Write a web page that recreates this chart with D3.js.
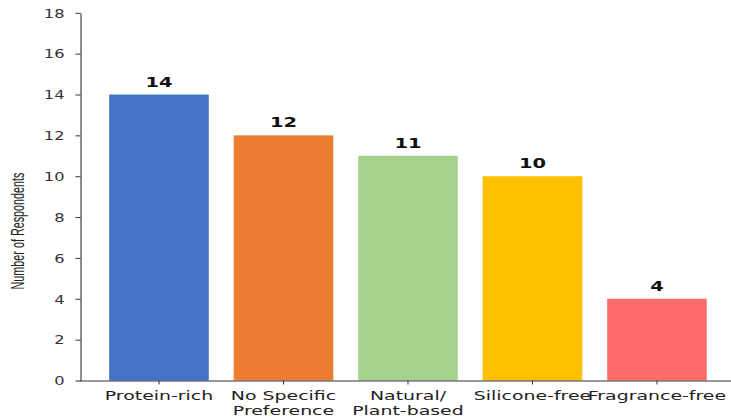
<!DOCTYPE html>
<html>
<head>
<meta charset="utf-8">
<script src="https://cdn.jsdelivr.net/npm/d3@7"></script>
<style>
  html, body { margin: 0; padding: 0; background: #fff; }
  svg { display: block; }
</style>
</head>
<body>
<svg id="chart" width="731" height="419"></svg>
<script>
// Survey results: preferred hair-care product attribute
const categories = ["Protein-rich", "No Specific\nPreference", "Natural/\nPlant-based", "Silicone-free", "Fragrance-free"];
const respondents = [14, 12, 11, 10, 4];
const barColors = ["#4472C4", "#ED7D31", "#A9D18E", "#FFC000", "#FF6B6B"];
const yTicks = [0, 2, 4, 6, 8, 10, 12, 14, 16, 18];
const yLabel = "Number of Respondents";

const svg = d3.select("#chart");

// Plot frame
const plot = { left: 80.5, top: 12.8, bottom: 380.5 };
const step = 124.5;
const xRange = [79.3, 79.3 + step * 5.28];

// Horizontal glyph stretch used for all text
const SX = 1.44;

const x = d3.scaleBand()
  .domain(categories)
  .range(xRange)
  .paddingInner(0.2)
  .paddingOuter(0.24);

const y = d3.scaleLinear()
  .domain([0, 18])
  .range([plot.bottom, plot.top]);

// Bars
svg.append("g")
  .selectAll("rect")
  .data(categories)
  .join("rect")
  .attr("x", d => x(d))
  .attr("width", x.bandwidth())
  .attr("y", (d, i) => y(respondents[i]))
  .attr("height", (d, i) => y(0) - y(respondents[i]))
  .attr("fill", (d, i) => barColors[i]);

// Value labels above bars
svg.append("g")
  .selectAll("text")
  .data(categories)
  .join("text")
  .attr("text-anchor", "middle")
  .attr("font-family", "DejaVu Sans, sans-serif")
  .attr("font-weight", "bold")
  .attr("font-size", 13.5)
  .attr("fill", "#111")
  .attr("transform", (d, i) => `translate(${x(d) + x.bandwidth() / 2},${y(respondents[i]) - 8}) scale(${SX},1)`)
  .text((d, i) => respondents[i]);

// Y axis
const yAxis = svg.append("g")
  .attr("transform", `translate(${plot.left},0)`)
  .call(d3.axisLeft(y).tickValues(yTicks).tickSize(5).tickSizeOuter(0));

yAxis.select(".domain").attr("stroke", "#333").attr("stroke-width", 1.1);
yAxis.selectAll(".tick line").attr("stroke", "#333").attr("stroke-width", 1);
yAxis.selectAll(".tick text")
  .attr("x", null)
  .attr("dy", "0.36em")
  .attr("text-anchor", "end")
  .attr("font-family", "DejaVu Sans, sans-serif")
  .attr("font-size", 12)
  .attr("fill", "#333")
  .attr("transform", `translate(-16,0) scale(${SX * 0.94},1)`);

// X axis
const xAxis = svg.append("g")
  .attr("transform", `translate(0,${plot.bottom})`)
  .call(d3.axisBottom(x).tickSize(4).tickSizeOuter(0));

xAxis.select(".domain").attr("stroke", "#333").attr("stroke-width", 1.1);
xAxis.selectAll(".tick line").attr("stroke", "#333").attr("stroke-width", 1);
xAxis.selectAll(".tick text").remove();
xAxis.selectAll(".tick").each(function (d) {
  const lines = d.split("\n");
  const t = d3.select(this).append("text")
    .attr("text-anchor", "middle")
    .attr("font-family", "DejaVu Sans, sans-serif")
    .attr("font-size", 13)
    .attr("fill", "#222")
    .attr("transform", `translate(0,19.5) scale(${SX * 1.01},1)`);
  lines.forEach((ln, k) => {
    t.append("tspan").attr("x", 0).attr("y", k * 15).text(ln);
  });
});

// Y axis title
svg.append("text")
  .attr("text-anchor", "middle")
  .attr("font-family", "Liberation Sans, Arial, sans-serif")
  .attr("font-size", 10.8)
  .attr("fill", "#222")
  .attr("transform", `translate(24,231) scale(1.75,1) rotate(-90)`)
  .text(yLabel);
</script>
</body>
</html>
